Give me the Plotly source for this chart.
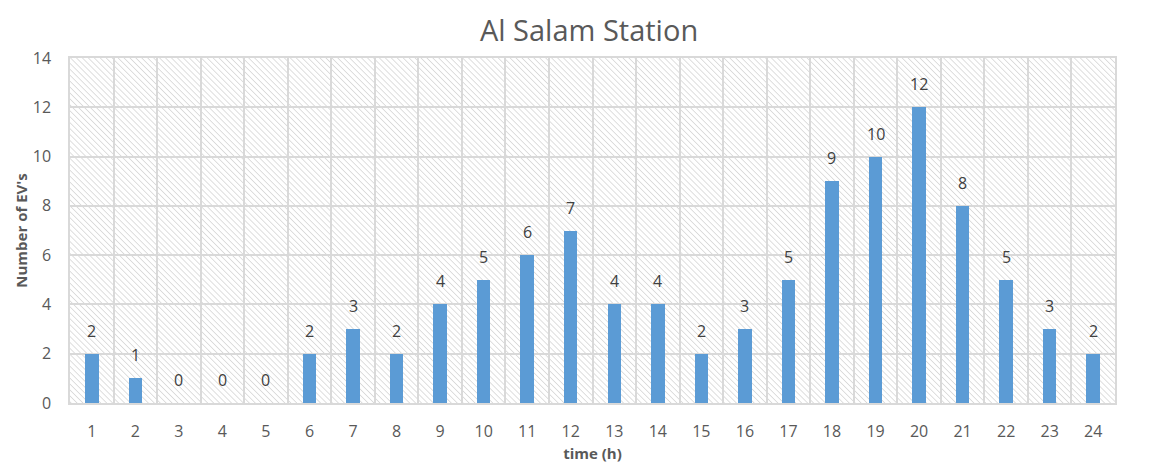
import base64
import plotly.graph_objects as go

# Hourly EV arrivals at the station
hours = list(range(1, 25))
ev_counts = [2, 1, 0, 0, 0, 2, 3, 2, 4, 5, 6, 7, 4, 4, 2, 3, 5, 9, 10, 12, 8, 5, 3, 2]
y_ticks = [0, 2, 4, 6, 8, 10, 12, 14]

# Light diagonal hatch used as the plot-area fill
hatch_svg = (
    '<svg xmlns="http://www.w3.org/2000/svg" width="1045" height="345">'
    '<defs><pattern id="h" width="4.2" height="4.2" patternUnits="userSpaceOnUse" '
    'patternTransform="rotate(-45)">'
    '<line x1="0" y1="0" x2="0" y2="4.2" stroke="#c9c9c9" stroke-width="1.2"/>'
    '</pattern></defs>'
    '<rect width="100%" height="100%" fill="white"/>'
    '<rect width="100%" height="100%" fill="url(#h)"/></svg>'
)
hatch_uri = "data:image/svg+xml;base64," + base64.b64encode(hatch_svg.encode()).decode()

grey = "#595959"
font_family = "Open Sans, Liberation Sans, sans-serif"

fig = go.Figure(
    go.Bar(
        x=hours,
        y=ev_counts,
        width=0.31,
        marker=dict(color="#5B9BD5", line=dict(width=0)),
        hoverinfo="x+y",
    )
)

# Value labels above each bar
for h, v in zip(hours, ev_counts):
    fig.add_annotation(
        x=h, y=v, text=str(v), showarrow=False,
        xanchor="center", yanchor="middle", yshift=23,
        font=dict(size=16, color="#404040", family=font_family),
    )

fig.add_layout_image(
    source=hatch_uri,
    xref="x domain", yref="y domain",
    x=0, y=1, sizex=1, sizey=1,
    xanchor="left", yanchor="top",
    sizing="stretch", layer="below",
)

fig.update_layout(
    width=1155, height=463,
    margin=dict(l=70, r=40, t=58, b=60),
    paper_bgcolor="white",
    plot_bgcolor="rgba(0,0,0,0)",
    showlegend=False,
    title=dict(
        text="Al Salam Station",
        x=0.51, xanchor="center",
        y=1 - 31 / 463, yanchor="middle",
        font=dict(size=29, color=grey, family=font_family),
    ),
    font=dict(family=font_family, color=grey),
    bargap=0,
)

fig.update_xaxes(
    range=[0.5, 24.5],
    tickvals=hours,
    ticktext=[str(h) for h in hours],
    tickfont=dict(size=16, color=grey),
    ticklabelstandoff=13,
    automargin=False,
    showgrid=False,
    zeroline=False,
    ticks="",
    showline=True, linecolor="#d9d9d9", linewidth=1.5, mirror=True,
    minor=dict(tickvals=[h + 0.5 for h in range(0, 25)], showgrid=True,
               gridcolor="#d9d9d9", gridwidth=1.5, ticks=""),
    title=dict(text="<b>time (h)</b>", font=dict(size=15, color=grey), standoff=8),
)

fig.update_yaxes(
    range=[0, 14],
    tickvals=y_ticks,
    tickfont=dict(size=16, color=grey),
    ticklabelstandoff=14,
    automargin=False,
    showgrid=True, gridcolor="#d9d9d9", gridwidth=1.5,
    zeroline=False,
    ticks="", ticklen=0,
    showline=True, linecolor="#d9d9d9", linewidth=1.5, mirror=True,
    title=dict(text="<b>Number of EV's</b>", font=dict(size=15, color=grey), standoff=2),
)

fig.write_html("out.html")
